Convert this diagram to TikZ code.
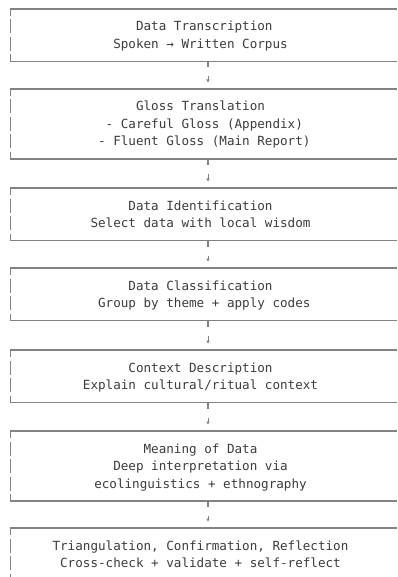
\documentclass[tikz,border=0pt]{standalone}
\usepackage{fontspec}
\setmonofont{DejaVu Sans Mono}
\usetikzlibrary{arrows.meta,calc}
\definecolor{txt}{RGB}{60,60,60}
\definecolor{ln}{RGB}{130,130,130}
\tikzset{
  frame/.style={draw=ln, line width=1.4pt},
  rowline/.style={draw=ln, line width=1.2pt},
  lbl/.style={text=txt, inner sep=0pt, anchor=base, font=\ttfamily\fontsize{12.6}{15}\selectfont},
  tick/.style={draw=ln, line width=1.2pt},
  arr/.style={draw=ln, line width=0.9pt, -{Triangle[length=3pt,width=3.2pt]}},
}
\newcommand{\openbox}[3]{% name, top y, rows
  \coordinate (#1-tl) at (10.5,#2);
  \pgfmathsetmacro\boxbot{#2+17.5*(#3+1)}
  \coordinate (#1-bl) at (10.5,\boxbot);
  \draw[frame] ($(#1-tl)+(0,7)$) -- (#1-tl) -- (397,#2);
  \draw[frame] ($(#1-bl)+(0,-7)$) -- (#1-bl) -- (397,\boxbot);
  \foreach \r in {1,...,#3} {\draw[rowline] ($(#1-tl)+(0,17.5*\r-7)$) -- ++(0,14);}
}
\newcommand{\linkboxes}[2]{% from, to
  \draw[tick] (#1-bl -| 208,0) -- ++(0,6);
  \draw[arr] ($(#1-bl -| 208,0)+(0,15)$) -- ($(#2-tl -| 208,0)+(0,-6.5)$);
}
\begin{document}
\begin{tikzpicture}[x=1pt,y=-1pt]
\useasboundingbox (0,0) rectangle (397,577);
\fill[white] (0,0) rectangle (397,577);
\openbox{b1}{9}{2}
\openbox{b2}{89}{3}
\openbox{b3}{188}{2}
\openbox{b4}{268}{2}
\openbox{b5}{350}{2}
\openbox{b6}{431}{3}
\openbox{b7}{528}{2}
\linkboxes{b1}{b2}
\linkboxes{b2}{b3}
\linkboxes{b3}{b4}
\linkboxes{b4}{b5}
\linkboxes{b5}{b6}
\linkboxes{b6}{b7}
% box 1
\node[lbl] (t1a) at (204.3,31) {Data Transcription};
\node[lbl] (t1b) at (200.5,48.5) {Spoken → Written Corpus};
% box 2
\node[lbl] (t2a) at (200.5,111) {Gloss Translation};
\node[lbl] (t2b) at (204.3,128.5) {- Careful Gloss (Appendix)};
\node[lbl] (t2c) at (204.3,146) {- Fluent Gloss (Main Report)};
% box 3
\node[lbl] (t3a) at (200.5,210) {Data Identification};
\node[lbl] (t3b) at (200.5,227.5) {Select data with local wisdom};
% box 4
\node[lbl] (t4a) at (200.5,290) {Data Classification};
\node[lbl] (t4b) at (204.3,307.5) {Group by theme + apply codes};
% box 5
\node[lbl] (t5a) at (200.5,372) {Context Description};
\node[lbl] (t5b) at (200.5,389.5) {Explain cultural/ritual context};
% box 6
\node[lbl] (t6a) at (200.5,453) {Meaning of Data};
\node[lbl] (t6b) at (200.5,470.5) {Deep interpretation via};
\node[lbl] (t6c) at (200.5,488) {ecolinguistics + ethnography};
% box 7
\node[lbl] (t7a) at (200.5,550) {Triangulation, Confirmation, Reflection};
\node[lbl] (t7b) at (200.5,567.5) {Cross-check + validate + self-reflect};
\end{tikzpicture}
\end{document}
